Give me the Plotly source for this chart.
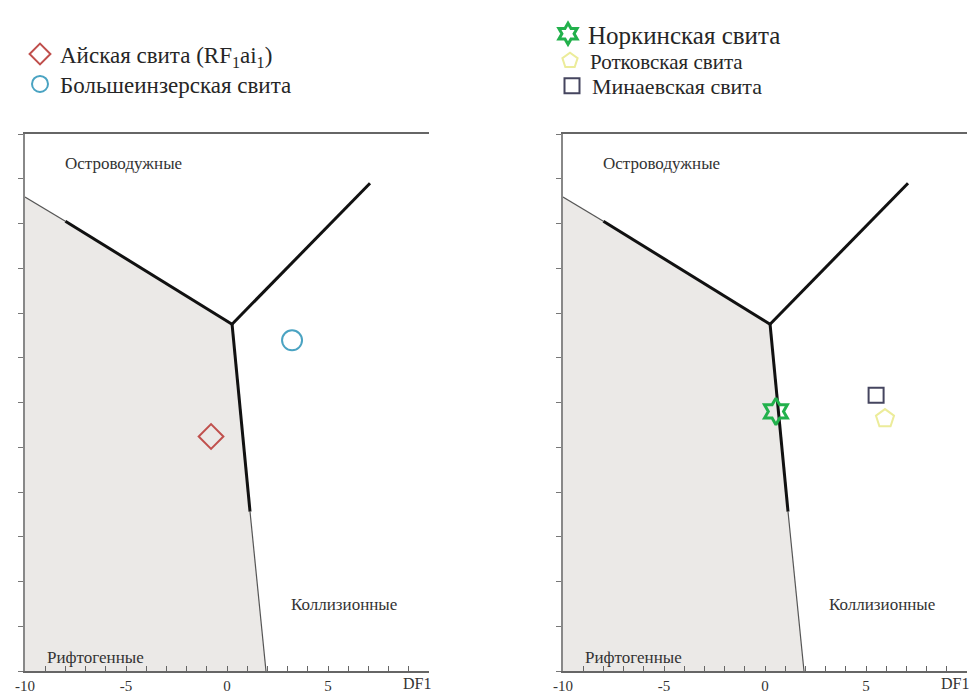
import plotly.graph_objects as go

# --- Discriminant diagram DF1-DF2: field boundaries (data units) ---
# rift field polygon vertices and boundary segments
edge_x, edge_y = [-10.0, -8.0], [4.59, 4.05]          # thin start of upper-left boundary
upper_x, upper_y = [-8.0, 0.25], [4.05, 1.75]          # thick upper-left boundary to triple junction
arc_x, arc_y = [0.25, 7.08], [1.75, 4.90]              # junction to upper right
lower_x, lower_y = [0.25, 1.14], [1.75, -2.44]         # thick lower boundary
tail_x, tail_y = [1.14, 1.93], [-2.44, -6.0]           # thin lower boundary to axis
rift_x = [-10.0, -8.0, 0.25, 1.14, 1.93, -10.0]
rift_y = [4.59, 4.05, 1.75, -2.44, -6.0, -6.0]

# --- Samples ---
ai_x, ai_y = [-0.79], [-0.76]          # Айская свита
bi_x, bi_y = [3.22], [1.39]            # Большеинзерская свита
nk_x, nk_y = [0.54], [-0.20]           # Норкинская свита
rt_x, rt_y = [5.94], [-0.36]           # Ротковская свита
mn_x, mn_y = [5.50], [0.16]            # Минаевская свита

# --- Field labels ---
field_names = ["Островодужные", "Коллизионные", "Рифтогенные"]
field_x = [-5.10, 5.79, -6.53]
field_y = [5.33, -4.52, -5.69]

# --- Axis ticks ---
x_major = [-10, -5, 0, 5]
x_major_text = ["-10", "-5", "0", "5"]
x_title = "DF1"
y_ticks = list(range(-6, 7))

W, H = 971, 695
SERIF = "Liberation Serif, Times New Roman, serif"
INK = "#262626"
fig = go.Figure()

for xa, ya in (("x", "y"), ("x2", "y2")):
    fig.add_trace(go.Scatter(x=rift_x, y=rift_y, fill="toself", fillcolor="#ebe9e7",
                             mode="none", xaxis=xa, yaxis=ya, showlegend=False, hoverinfo="skip"))
    for sx, sy, w, c in ((edge_x, edge_y, 1.2, "#555"), (upper_x, upper_y, 3, "#111"),
                         (arc_x, arc_y, 3, "#111"), (lower_x, lower_y, 3, "#111"),
                         (tail_x, tail_y, 1.2, "#555")):
        fig.add_trace(go.Scatter(x=sx, y=sy, mode="lines", line=dict(color=c, width=w),
                                 xaxis=xa, yaxis=ya, showlegend=False, hoverinfo="skip"))

# each sample series gets its own legend box so the key rows can be spaced freely
fig.add_trace(go.Scatter(x=ai_x, y=ai_y, mode="markers", xaxis="x", yaxis="y",
                         name="Айская свита (RF<sub>1</sub>ai<sub>1</sub>)", legend="legend",
                         marker=dict(symbol="diamond-open", size=19, color="#c0504d", line=dict(width=2))))
fig.add_trace(go.Scatter(x=bi_x, y=bi_y, mode="markers", xaxis="x", yaxis="y",
                         name="Большеинзерская свита", legend="legend2",
                         marker=dict(symbol="circle-open", size=20, color="#4aa3c2", line=dict(width=2))))
fig.add_trace(go.Scatter(x=nk_x, y=nk_y, mode="markers", xaxis="x2", yaxis="y2",
                         name="Норкинская свита", legend="legend3",
                         marker=dict(symbol="hexagram-open", size=20, color="#22b14c", line=dict(width=3))))
fig.add_trace(go.Scatter(x=rt_x, y=rt_y, mode="markers", xaxis="x2", yaxis="y2",
                         name="Ротковская свита", legend="legend4",
                         marker=dict(symbol="pentagon-open", size=19, color="#ecec9a", line=dict(width=2))))
fig.add_trace(go.Scatter(x=mn_x, y=mn_y, mode="markers", xaxis="x2", yaxis="y2",
                         name="Минаевская свита", legend="legend5",
                         marker=dict(symbol="square-open", size=15, color="#45455f", line=dict(width=2))))

for xa, ya in (("x", "y"), ("x2", "y2")):
    for t, fx, fy in zip(field_names, field_x, field_y):
        fig.add_annotation(x=fx, y=fy, xref=xa, yref=ya, text=t, showarrow=False,
                           font=dict(family=SERIF, size=17, color="#333"))
    # axis name placed under the right end of each DF1 axis
    fig.add_annotation(x=10, y=-6, xref=xa, yref=ya, text=x_title, showarrow=False,
                       xanchor="right", yanchor="top", yshift=-2, xshift=4,
                       font=dict(family=SERIF, size=16, color="#333"))

xaxis_style = dict(range=[-10, 10], tickvals=x_major, ticktext=x_major_text, ticks="inside", ticklen=5,
                   tickcolor="#666", minor=dict(dtick=1, tick0=0, ticks="inside", ticklen=5, tickcolor="#666"),
                   showline=True, linecolor="#666", linewidth=1.5, mirror=True,
                   showgrid=False, zeroline=False, automargin=False,
                   tickfont=dict(family=SERIF, size=15, color="#333"))
yaxis_style = dict(range=[-6, 6], tickvals=y_ticks, ticks="outside", ticklen=5, tickcolor="#777",
                   showticklabels=False, showline=True, linecolor="#888", linewidth=1.5,
                   showgrid=False, zeroline=False, automargin=False)


def key_box(px, py, size):
    return dict(x=px / W, y=1 - py / H, xanchor="left", yanchor="middle", bgcolor="rgba(0,0,0,0)",
                font=dict(family=SERIF, size=size, color=INK), tracegroupgap=0)


y_dom = [(H - 671) / H, (H - 134) / H]
fig.update_layout(
    width=W, height=H, margin=dict(l=0, r=0, t=0, b=0),
    paper_bgcolor="white", plot_bgcolor="white",
    xaxis=dict(domain=[25 / W, 429 / W], **xaxis_style),
    xaxis2=dict(domain=[563 / W, 967 / W], **xaxis_style),
    yaxis=dict(domain=y_dom, anchor="x", **yaxis_style),
    yaxis2=dict(domain=y_dom, anchor="x2", **yaxis_style),
    legend=key_box(20, 54, 23),
    legend2=key_box(20, 84, 23),
    legend3=key_box(548, 34, 25),
    legend4=key_box(550, 61, 21),
    legend5=key_box(552, 86, 22),
    showlegend=True,
)

fig.write_html("out.html")
